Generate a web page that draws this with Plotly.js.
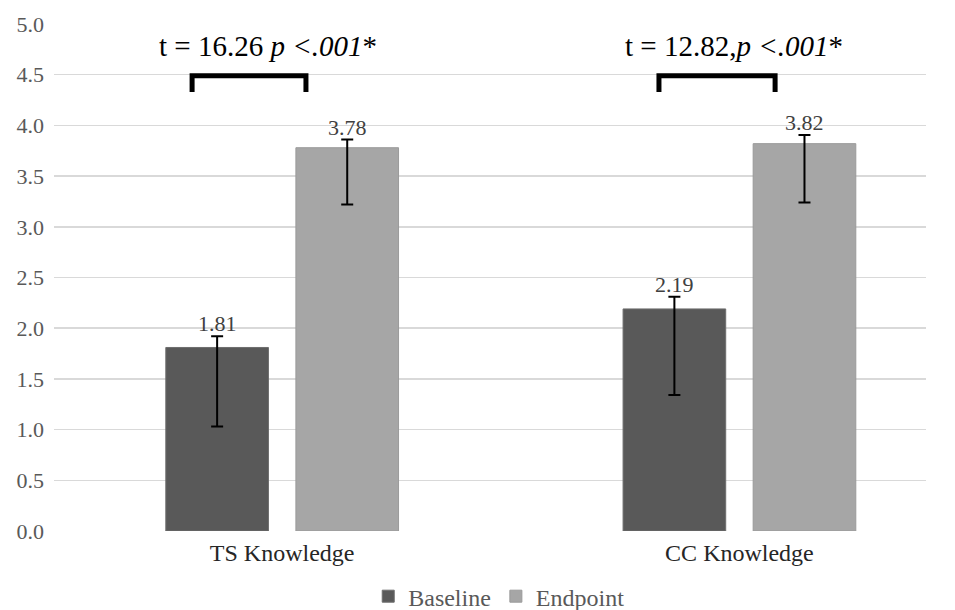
<!DOCTYPE html>
<html>
<head>
<meta charset="utf-8">
<script src="https://cdn.plot.ly/plotly-3.0.1.min.js"></script>
<style>html,body{margin:0;padding:0;background:#fff;}#chart{width:955px;height:610px;}</style>
</head>
<body>
<div id="chart"></div>
<script>
const categories = ["TS Knowledge", "CC Knowledge"];
const baselineMean = [1.81, 2.19];
const baselinePlus = [0.11, 0.12];
const baselineMinus = [0.78, 0.85];
const endpointMean = [3.78, 3.82];
const endpointPlus = [0.08, 0.085];
const endpointMinus = [0.56, 0.58];
const tTexts = ["t = 16.26 <i>p &lt;.001</i>*", "t = 12.82,<i>p &lt;.001</i>*"];
const yTicks = [0, 0.5, 1, 1.5, 2, 2.5, 3, 3.5, 4, 4.5, 5];

const serif = "Liberation Serif";
const bargap = 0.431, bargroupgap = 0.211;
const slot = (1 - bargap) / 2;

const traces = [
  {type: "bar", name: "Baseline", x: categories, y: baselineMean,
   marker: {color: "#595959", line: {color: "#6e6e6e", width: 1}},
   error_y: {type: "data", symmetric: false, array: baselinePlus, arrayminus: baselineMinus,
             color: "#000", thickness: 2, width: 6}, hoverinfo: "y"},
  {type: "bar", name: "Endpoint", x: categories, y: endpointMean,
   marker: {color: "#a6a6a6", line: {color: "#9a9a9a", width: 1}},
   error_y: {type: "data", symmetric: false, array: endpointPlus, arrayminus: endpointMinus,
             color: "#000", thickness: 2, width: 6}, hoverinfo: "y"}
];

const annotations = [];
categories.forEach((c, i) => {
  annotations.push({x: i - slot / 2, y: baselineMean[i] + baselinePlus[i], xref: "x", yref: "y",
    text: baselineMean[i].toFixed(2), showarrow: false, yanchor: "bottom", yshift: -2,
    font: {family: serif, size: 22, color: "#404040"}});
  annotations.push({x: i + slot / 2, y: endpointMean[i] + endpointPlus[i], xref: "x", yref: "y",
    text: endpointMean[i].toFixed(2), showarrow: false, yanchor: "bottom", yshift: -2,
    font: {family: serif, size: 22, color: "#404040"}});
});
const tX = [-0.03, -0.012];
tTexts.forEach((t, i) => {
  annotations.push({x: i + tX[i], y: 4.78, xref: "x", yref: "y", text: t, showarrow: false,
    font: {family: serif, size: 29, color: "#000"}});
});
const brL = [-0.197, -0.176], brR = [0.052, 0.078];
const shapes = [];
categories.forEach((c, i) => {
  const x0 = i + brL[i], x1 = i + brR[i];
  shapes.push({type: "path", xref: "x", yref: "y",
    path: `M ${x0} 4.33 L ${x0} 4.49 L ${x1} 4.49 L ${x1} 4.33`,
    line: {color: "#000", width: 5}});
});

const layout = {
  width: 955, height: 610,
  margin: {l: 54, r: 29, t: 24, b: 79},
  paper_bgcolor: "#fff", plot_bgcolor: "#fff",
  barmode: "group", bargap: bargap, bargroupgap: bargroupgap,
  font: {family: serif, color: "#404040"},
  xaxis: {type: "category", range: [-0.499, 1.408], showgrid: false, zeroline: false,
          showline: false, ticks: "", automargin: false, ticklabelstandoff: 5,
          tickfont: {family: serif, size: 24, color: "#262626"}},
  yaxis: {range: [0, 5], tickvals: yTicks, tickformat: ".1f", showgrid: true, automargin: false,
          gridcolor: "#d9d9d9", gridwidth: 1.5, zeroline: false, showline: false, ticks: "",
          tickfont: {family: serif, size: 22, color: "#595959"}, ticklabelstandoff: 9},
  showlegend: true,
  legend: {orientation: "h", x: 0.51, xanchor: "center", yref: "container", y: 0.022, yanchor: "middle",
           font: {family: serif, size: 24, color: "#595959"}, traceorder: "normal"},
  annotations: annotations,
  shapes: shapes
};

Plotly.newPlot("chart", traces, layout, {displayModeBar: false, staticPlot: true});
</script>
</body>
</html>
